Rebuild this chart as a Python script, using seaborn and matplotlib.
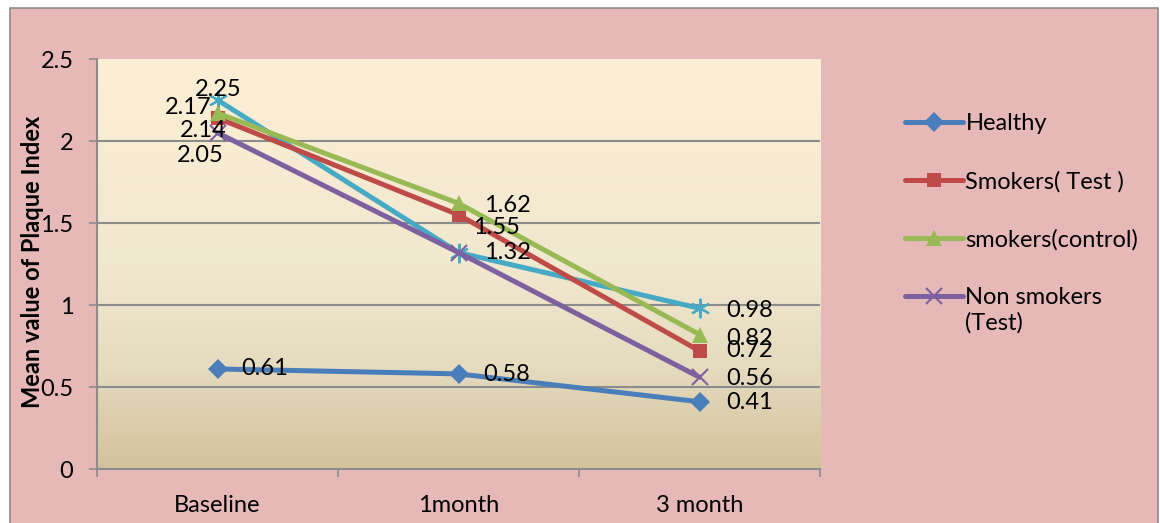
import numpy as np
import pandas as pd
import matplotlib
matplotlib.use("Agg")
import matplotlib.pyplot as plt
from matplotlib.colors import LinearSegmentedColormap
from matplotlib.patches import Rectangle
from matplotlib.transforms import offset_copy
import seaborn as sns

# ---- data -------------------------------------------------------------
categories = ["Baseline", "1month", "3 month"]
healthy = [0.61, 0.58, 0.41]
smokers_test = [2.14, 1.55, 0.72]
smokers_control = [2.17, 1.62, 0.82]
non_smokers_test = [2.05, 1.32, 0.56]
series5 = [2.25, 1.32, 0.98]
y_ticks = [0, 0.5, 1, 1.5, 2, 2.5]

sns.set_theme(style="white")
plt.rcParams["font.family"] = ["Lato", "DejaVu Sans"]
plt.rcParams.update({"text.color": "black", "axes.labelcolor": "black",
                     "xtick.labelcolor": "black", "ytick.labelcolor": "black"})
FS = 17

fig = plt.figure(figsize=(11.6, 5.23), dpi=100, facecolor="white")
# pink chart area with thin grey border
fig.patches.append(Rectangle((10 / 1160, -0.02), 1148 / 1160, 1 - 8 / 523 + 0.02,
                             transform=fig.transFigure, facecolor="#E6B8B8",
                             edgecolor="#8C8C8C", lw=1.2, zorder=-10))

ax = fig.add_axes([97 / 1160, 1 - 469 / 523, (820 - 97) / 1160, (469 - 59) / 523])
ax.set_facecolor("none")
ax.set_zorder(1)

# plot-area gradient (cream at top to tan at bottom)
cmap = LinearSegmentedColormap.from_list(
    "parchment",
    [(0.0, "#D3C29C"), (0.25, "#E5DBBF"), (0.5, "#F1E8D0"), (1.0, "#FDEFD5")])
grad = np.linspace(0, 1, 256).reshape(-1, 1)
ax.imshow(grad, extent=(-0.5, 2.5, 0, 2.5), origin="lower", aspect="auto",
          cmap=cmap, zorder=0)

x = np.arange(len(categories))
styles = [
    ("Healthy", healthy, "#4A7EBB", "D", 10, True),
    ("Smokers( Test )", smokers_test, "#BE4B48", "s", 10, True),
    ("smokers(control)", smokers_control, "#98B954", "^", 11, True),
    ("Non smokers", non_smokers_test, "#7D60A0", "x", 11, True),
    ("series5", series5, "#46AAC5", (6, 2, 0), 14, False),
]
order = [4, 3, 0, 1, 2]
for i in [0, 1, 2, 3, 4]:
    name, vals, col, mk, ms, show = styles[i]
    df = pd.DataFrame({"x": x, "y": vals})
    sns.lineplot(data=df, x="x", y="y", ax=ax, color=col, lw=3.6,
                 marker=mk, markersize=ms, markeredgecolor=col,
                 markeredgewidth=1.5 if (mk == "x" or isinstance(mk, tuple)) else 0,
                 markerfacecolor=col, zorder=3 + order.index(i),
                 label=name if show else "_nolegend_")

# value labels (offsets in pixels)
lab_off = {
    "Healthy": [(24, 0), (25, -1), (27, -1)],
    "Smokers( Test )": [(-14, -12), (15, -13), (27, 0)],
    "smokers(control)": [(-29, 6), (26, -2), (27, -4)],
    "Non smokers": [(-17, -23), None, (27, -1)],
    "series5": [(1, 10), (26, 0), (27, -2)],
}
for name, vals, col, mk, ms, show in styles:
    for xi, v, off in zip(x, vals, lab_off[name]):
        if off is None:
            continue
        ha = "left" if off[0] > 10 else "center"
        ax.annotate(f"{v:.2f}", (xi, v), xytext=(off[0] * 0.72, off[1] * 0.72),
                    textcoords="offset points", ha=ha, va="center",
                    fontsize=FS, color="black", zorder=20)

ax.set_xlim(-0.5, 2.5)
ax.set_ylim(0, 2.5)
ax.set_yticks(y_ticks)
ax.set_yticklabels(["0", "0.5", "1", "1.5", "2", "2.5"], fontsize=FS)
ax.set_xticks(x)
ax.set_xticklabels(categories, fontsize=FS)
ax.set_xticks([-0.5, 0.5, 1.5, 2.5], minor=True)
ax.tick_params(axis="x", which="major", length=0, pad=19)
ax.tick_params(axis="x", which="minor", length=6, width=1.2, color="#8C8C8C",
               direction="out", bottom=True)
ax.tick_params(axis="y", length=6, width=1.2, color="#8C8C8C", left=True,
               direction="out", pad=11)
ax.set_xlabel("")
ax.set_ylabel("")
for yv in y_ticks[:-1]:
    ax.axhline(yv, color="#8C8C8C", lw=1.5, zorder=1)
for s in ["top", "right"]:
    ax.spines[s].set_visible(False)
for s in ["left", "bottom"]:
    ax.spines[s].set_color("#8C8C8C")
    ax.spines[s].set_linewidth(1.5)

fig.text(33 / 1160, 1 - 262 / 523, "Mean value of Plaque Index", rotation=90,
         ha="center", va="center", fontsize=17, fontweight="bold", color="black")

leg = ax.legend(loc="upper left", bbox_to_anchor=(884 / 1160, 1 - 92 / 523),
                bbox_transform=fig.transFigure, frameon=False, fontsize=FS,
                handlelength=2.45, handletextpad=0.1, labelspacing=1.55)
for t in leg.get_texts():
    t.set_color("black")

# second line of the last legend entry, placed under its first line
fig.canvas.draw()
bb = leg.get_texts()[3].get_window_extent()
x0, y0 = fig.transFigure.inverted().transform((bb.x0, bb.y0))
fig.text(x0, y0, "(Test)", ha="left", va="top", fontsize=FS, color="black",
         transform=offset_copy(fig.transFigure, fig=fig, x=0, y=-3, units="points"))

fig.savefig("out.png", dpi=100, facecolor=fig.get_facecolor())
